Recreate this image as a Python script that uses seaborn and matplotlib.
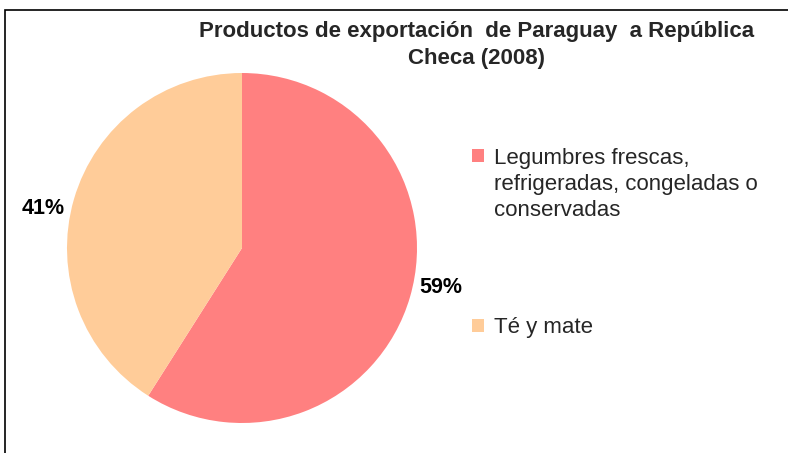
import matplotlib
matplotlib.use("Agg")
import matplotlib.pyplot as plt
from matplotlib.patches import Rectangle
from matplotlib.legend_handler import HandlerPatch
import numpy as np
import seaborn as sns

productos = ["Legumbres frescas,\nrefrigeradas, congeladas o\nconservadas", "Té y mate"]
porcentajes = [59, 41]
colores = ["#FF8080", "#FFCC99"]
titulo = "Productos de exportación  de Paraguay  a República\nCheca (2008)"

sns.set_theme(style="white")
plt.rcParams["font.family"] = ["Liberation Sans", "DejaVu Sans"]

W, H = 788, 453
fig = plt.figure(figsize=(W / 100, H / 100), dpi=100)
fig.patch.set_facecolor("white")

# pie area: center ~(242, 248), radius ~175 px
ax = fig.add_axes([67 / W, (H - 423) / H, 350 / W, 350 / H])
wedges, textos, pcts = ax.pie(porcentajes, colors=colores, startangle=90, counterclock=False,
                              autopct="%1.0f%%", pctdistance=1.15,
                              wedgeprops={"linewidth": 0},
                              textprops={"fontsize": 15.5, "fontweight": "bold", "color": "black"})
for t in textos:
    t.set_visible(False)
# Excel puts the labels a little counter-clockwise of the slice middle
for w, p in zip(wedges, pcts):
    ang = np.deg2rad((w.theta1 + w.theta2) / 2 + 5)
    p.set_position((1.16 * np.cos(ang), 1.16 * np.sin(ang)))
ax.set_xlim(-1, 1)
ax.set_ylim(-1, 1)
ax.set_aspect("equal")

fig.text(477 / W, 1 - 21 / H, titulo, ha="center", va="top", fontsize=16,
         fontweight="bold", linespacing=1.35)

LEG_FS = 16
LINE_SP = 1.32


# legend square sits on the first text line, like the original
class PrimeraLinea(HandlerPatch):
    def __init__(self, n_lineas):
        super().__init__()
        self.n_lineas = n_lineas

    def create_artists(self, legend, orig_handle, xdescent, ydescent, width, height,
                       fontsize, trans):
        lado = 0.55 * fontsize
        shift = (self.n_lineas - 1) / 2 * LINE_SP * fontsize
        p = Rectangle((-xdescent + width - lado, -ydescent + (height - lado) / 2 + shift),
                      lado, lado, facecolor=orig_handle.get_facecolor(), edgecolor="none",
                      transform=trans)
        return [p]


hmap = {w: PrimeraLinea(lab.count("\n") + 1) for w, lab in zip(wedges, productos)}
leg = fig.legend(wedges, productos, loc="upper left", bbox_to_anchor=(446 / W, 1 - 128 / H),
                 frameon=False, fontsize=LEG_FS, handlelength=0.8, handleheight=0.7,
                 handletextpad=0.45, labelspacing=4.32, handler_map=hmap)
for t in leg.get_texts():
    t.set_linespacing(LINE_SP)

# chart border (left and top visible)
fig.add_artist(Rectangle((5 / W, -0.1), 1.2, 1 - 10 / H + 0.1, transform=fig.transFigure,
                         fill=False, edgecolor="black", linewidth=1.2, clip_on=False))

fig.savefig("out.png", dpi=100)
